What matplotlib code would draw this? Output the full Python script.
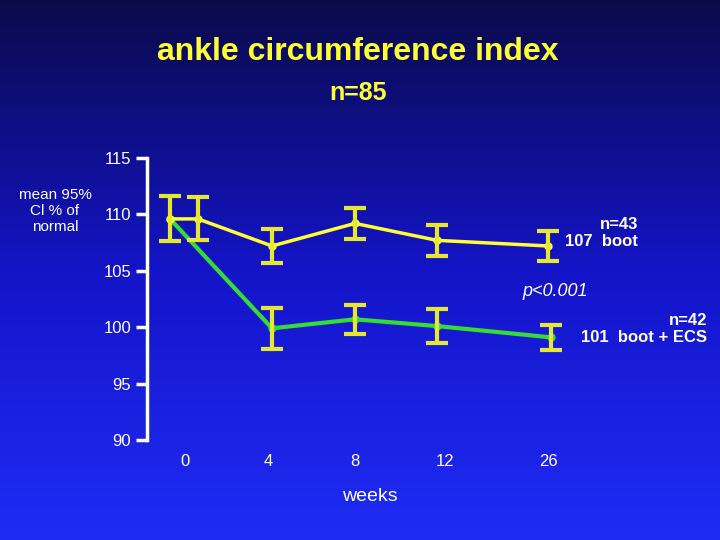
import numpy as np
import matplotlib
matplotlib.use("Agg")
import matplotlib.pyplot as plt

plt.rcParams['font.family'] = ['Liberation Sans', 'DejaVu Sans']

# x positions on the slide's horizontal scale (weeks are not linear)
boot_x = [170, 198, 272, 355, 437, 548]
boot_y = [109.6, 109.6, 107.2, 109.2, 107.7, 107.2]
boot_err = [2.0, 1.9, 1.5, 1.4, 1.4, 1.3]

ecs_x = [170, 272, 355, 437, 551]
ecs_y = [109.6, 99.9, 100.7, 100.1, 99.1]
ecs_err = [None, 1.8, 1.3, 1.5, 1.1]

week_pos = [185, 268, 355, 445, 548]
week_labels = ["0", "4", "8", "12", "26"]
y_ticks = [90, 95, 100, 105, 110, 115]

fig = plt.figure(figsize=(7.2, 5.4), dpi=100)

# background gradient
bg = fig.add_axes([0, 0, 1, 1])
grad = np.linspace(0, 1, 256).reshape(-1, 1)
cmap = matplotlib.colors.LinearSegmentedColormap.from_list("bg", ["#0a0a4a", "#1414c8", "#1f2cf5"])
bg.imshow(grad, aspect="auto", cmap=cmap, extent=[0, 1, 0, 1])
bg.axis("off")

ax = fig.add_axes([147 / 720, 1 - 440 / 540, 1 - 147 / 720, 282 / 540])
ax.patch.set_alpha(0)
ax.set_xlim(147, 720)
ax.set_ylim(90, 115)
for s in ["top", "right", "bottom"]:
    ax.spines[s].set_visible(False)
ax.spines["left"].set_color("white")
ax.spines["left"].set_linewidth(2.5)
ax.set_yticks(y_ticks)
ax.tick_params(axis="y", colors="white", width=2.5, length=8, labelsize=12)
ax.set_xticks(week_pos)
ax.set_xticklabels(week_labels, color="white", fontsize=12)
ax.tick_params(axis="x", length=0, pad=10)
ax.set_xlabel("weeks", color="white", fontsize=14)
ax.xaxis.set_label_coords((370 - 147) / 573, -0.17)

ax.plot(ecs_x, ecs_y, color="#33dd33", lw=3, marker="o", ms=5, zorder=3)
ax.plot(boot_x, boot_y, color="#ffff33", lw=2.5, marker="o", ms=5, zorder=4)
ex = [x for x, e in zip(ecs_x, ecs_err) if e]
ey = [y for y, e in zip(ecs_y, ecs_err) if e]
ee = [e for e in ecs_err if e]
ax.errorbar(ex, ey, yerr=ee, fmt="none", ecolor="#e6e633", elinewidth=3, capsize=8, capthick=3, zorder=5)
ax.errorbar(boot_x, boot_y, yerr=boot_err, fmt="none", ecolor="#e6e633", elinewidth=3, capsize=8, capthick=3, zorder=5)

fig.text(358 / 720, 1 - 52 / 540, "ankle circumference index", color="#ffff33",
         fontsize=23, fontweight="bold", ha="center", va="center")
fig.text(358 / 720, 1 - 93 / 540, "n=85", color="#ffff33", fontsize=18,
         fontweight="bold", ha="center", va="center")
fig.text(55 / 720, 1 - 211 / 540, "mean 95%\nCl % of\nnormal", color="white",
         fontsize=11, ha="center", va="center", linespacing=1.15)
fig.text(638 / 720, 1 - 233 / 540, "n=43\n107  boot", color="white", fontsize=12,
         fontweight="bold", ha="right", va="center", linespacing=1.1)
fig.text(555 / 720, 1 - 292 / 540, "p<0.001", color="white", fontsize=13,
         fontstyle="italic", ha="center", va="center")
fig.text(707 / 720, 1 - 329 / 540, "n=42\n101  boot + ECS", color="white", fontsize=12,
         fontweight="bold", ha="right", va="center", linespacing=1.1)

fig.savefig("out.png", dpi=100)
